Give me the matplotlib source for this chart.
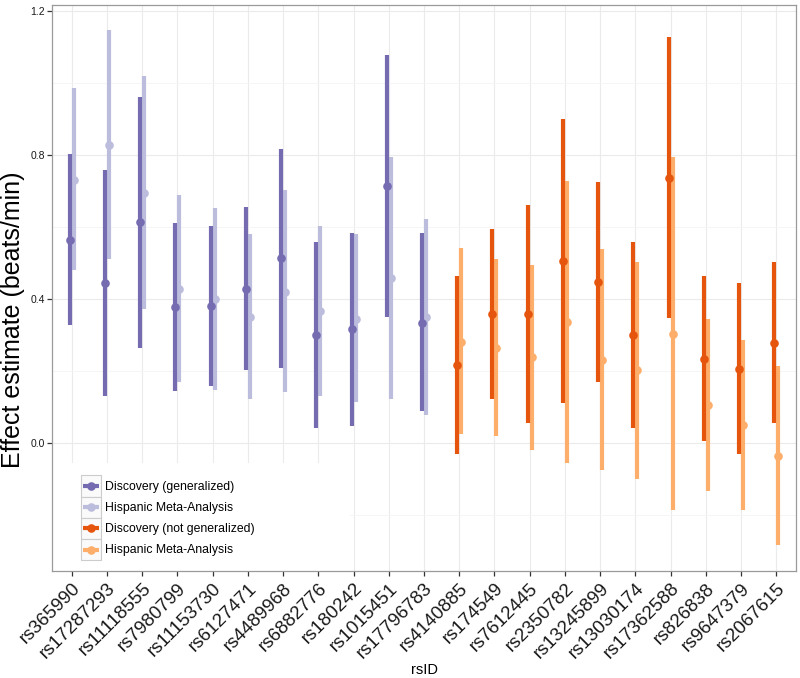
import matplotlib
matplotlib.use("Agg")
import matplotlib.pyplot as plt
from matplotlib.lines import Line2D
from matplotlib.patches import Rectangle
from matplotlib.legend_handler import HandlerBase
import numpy as np

plt.rcParams['font.family'] = ['Liberation Sans', 'DejaVu Sans']

snps = ["rs365990", "rs17287293", "rs11118555", "rs7980799", "rs11153730",
        "rs6127471", "rs4489968", "rs6882776", "rs180242", "rs1015451",
        "rs17796783", "rs4140885", "rs174549", "rs7612445", "rs2350782",
        "rs13245899", "rs13030174", "rs17362588", "rs826838", "rs9647379",
        "rs2067615"]
generalized = [True] * 11 + [False] * 10

disc_est = [0.565, 0.444, 0.613, 0.377, 0.381, 0.429, 0.514, 0.301, 0.317, 0.715,
            0.335, 0.218, 0.359, 0.359, 0.506, 0.448, 0.301, 0.738, 0.234, 0.206, 0.279]
disc_lo = [0.327, 0.130, 0.264, 0.145, 0.159, 0.204, 0.210, 0.043, 0.048, 0.350,
           0.088, -0.030, 0.122, 0.056, 0.111, 0.169, 0.043, 0.349, 0.007, -0.030, 0.056]
disc_hi = [0.803, 0.759, 0.963, 0.611, 0.604, 0.657, 0.818, 0.560, 0.585, 1.079,
           0.583, 0.465, 0.596, 0.662, 0.901, 0.726, 0.558, 1.127, 0.463, 0.444, 0.502]

meta_est = [0.731, 0.829, 0.696, 0.429, 0.401, 0.350, 0.421, 0.368, 0.346, 0.458,
            0.350, 0.282, 0.265, 0.238, 0.337, 0.231, 0.202, 0.304, 0.106, 0.049, -0.037]
meta_lo = [0.480, 0.511, 0.373, 0.171, 0.148, 0.122, 0.143, 0.130, 0.113, 0.122,
           0.079, 0.026, 0.021, -0.019, -0.054, -0.074, -0.100, -0.187, -0.134, -0.187, -0.284]
meta_hi = [0.986, 1.148, 1.020, 0.690, 0.654, 0.581, 0.702, 0.604, 0.581, 0.794,
           0.623, 0.541, 0.511, 0.495, 0.729, 0.539, 0.503, 0.796, 0.345, 0.287, 0.213]

legend_labels = ["Discovery (generalized)", "Hispanic Meta-Analysis",
                 "Discovery (not generalized)", "Hispanic Meta-Analysis"]
col_disc_gen = "#756bb1"
col_meta_gen = "#bcbddc"
col_disc_ng = "#e6550d"
col_meta_ng = "#fdae6b"

fig = plt.figure(figsize=(8, 6.78), dpi=100)
ax = fig.add_axes([0.065, 0.158, 0.930, 0.835])

x = np.arange(1, len(snps) + 1)
dodge = 0.057
lw = 3.0
ms = 6.2

for i in range(len(snps)):
    cd = col_disc_gen if generalized[i] else col_disc_ng
    cm = col_meta_gen if generalized[i] else col_meta_ng
    xm = x[i] + dodge
    xd = x[i] - dodge
    ax.plot([xm, xm], [meta_lo[i], meta_hi[i]], color=cm, lw=lw, solid_capstyle='butt', zorder=3)
    ax.plot([xm], [meta_est[i]], 'o', color=cm, ms=ms, mec='none', zorder=3)
    ax.plot([xd, xd], [disc_lo[i], disc_hi[i]], color=cd, lw=lw, solid_capstyle='butt', zorder=4)
    ax.plot([xd], [disc_est[i]], 'o', color=cd, ms=ms, mec='none', zorder=4)

ax.set_xlim(0.44, len(snps) + 0.56)
ax.set_ylim(-0.355, 1.218)
ax.set_yticks([0.0, 0.4, 0.8, 1.2])
ax.set_yticks([-0.2, 0.2, 0.6, 1.0], minor=True)
ax.set_yticklabels(["0.0", "0.4", "0.8", "1.2"])
ax.set_xticks(x)
ax.set_xticklabels(snps, rotation=45, ha='right', va='top', rotation_mode='anchor', fontsize=13.5)

ax.grid(True, which='major', color='#ebebeb', lw=0.8, zorder=0)
ax.grid(True, which='minor', axis='y', color='#f4f4f4', lw=0.6, zorder=0)
ax.set_axisbelow(True)
for s in ax.spines.values():
    s.set_color('#9a9a9a')
    s.set_linewidth(0.9)
ax.tick_params(axis='both', which='major', length=3.5, color='#333333', width=0.9, labelcolor='#1a1a1a')
ax.tick_params(axis='y', labelsize=7.5, pad=1.5)
ax.tick_params(axis='x', pad=3)
ax.tick_params(which='minor', length=0)

ax.set_ylabel("Effect estimate (beats/min)", fontsize=18)
ax.yaxis.set_label_coords(-0.036, 0.443)
ax.set_xlabel("rsID", fontsize=10.5)
ax.xaxis.set_label_coords(0.5, -0.163)

# legend background covering grid
ax.add_patch(Rectangle((0, 0), 0.4, 0.19, transform=ax.transAxes,
                       facecolor='white', edgecolor='none', zorder=1))


class KeyHandler(HandlerBase):
    def create_artists(self, legend, orig_handle, xdescent, ydescent,
                       width, height, fontsize, trans):
        x0, y0 = -xdescent, -ydescent
        rect = Rectangle((x0, y0), width, height, facecolor='#fafafa',
                         edgecolor='#cccccc', lw=0.8, transform=trans)
        yc = y0 + height / 2.0
        line = Line2D([x0 + 0.1 * width, x0 + 0.9 * width], [yc, yc],
                      color=orig_handle.get_color(), lw=lw, solid_capstyle='butt',
                      transform=trans)
        pt = Line2D([x0 + width / 2.0], [yc], marker='o', ms=ms, mec='none',
                    color=orig_handle.get_color(), lw=0, transform=trans)
        return [rect, line, pt]


handles = [Line2D([], [], color=c) for c in
           [col_disc_gen, col_meta_gen, col_disc_ng, col_meta_ng]]
leg = ax.legend(handles, legend_labels, loc='lower left', bbox_to_anchor=(0.033, 0.010),
                frameon=False, fontsize=8.8, handlelength=1.64, handleheight=2.3,
                handletextpad=0.25, labelspacing=0.0, borderaxespad=0,
                handler_map={Line2D: KeyHandler()})
leg.set_zorder(6)

fig.savefig("out.png", dpi=100)
